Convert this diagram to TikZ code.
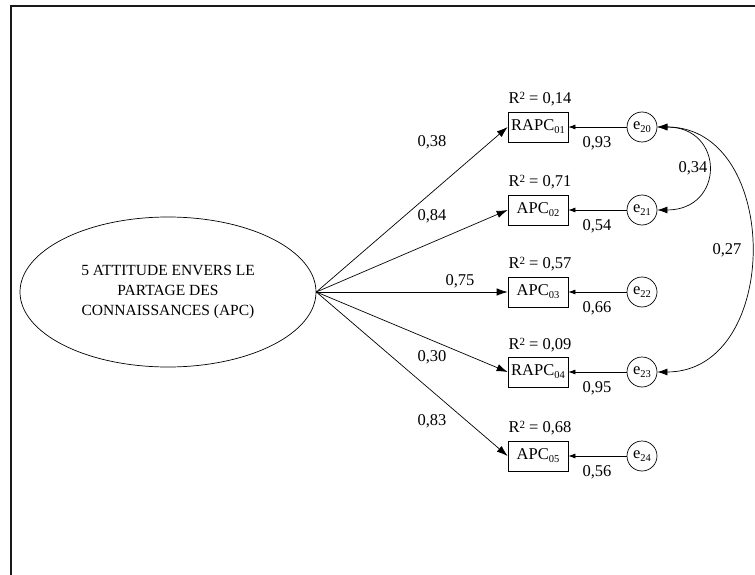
\documentclass[tikz,border=0pt]{standalone}
\usepackage{fontspec}
\setmainfont{Liberation Serif}
\usetikzlibrary{arrows.meta,shapes.geometric}

% small lowered index and raised exponent in the text font
\newcommand\lowidx[1]{\raisebox{-0.4ex}{\fontsize{10.5}{10}\selectfont #1}}
\newcommand\hisq{\raisebox{0.6ex}{\fontsize{11}{10}\selectfont 2}}

\begin{document}
\begin{tikzpicture}[x=1pt,y=-1pt,
  font=\fontsize{16.5}{18}\selectfont,
  frame/.style={line width=1.6pt, draw=black!90},
  obs/.style={draw, line width=0.7pt, minimum width=60pt, minimum height=30pt, inner sep=1pt},
  err/.style={draw, circle, line width=0.7pt, minimum size=30pt, inner sep=0pt},
  lat/.style={draw, ellipse, line width=0.7pt, minimum width=296pt, minimum height=150pt,
              align=center, inner sep=0pt, font=\fontsize{15.5}{20}\selectfont},
  load/.style={line width=0.7pt, -{Latex[length=11pt,width=7.5pt]}},
  resid/.style={line width=0.7pt, -{Latex[length=7pt,width=5pt]}},
  cov/.style={line width=0.7pt, {Latex[length=10pt,width=7pt]}-{Latex[length=10pt,width=7pt]}},
  lbl/.style={inner sep=0pt}]

\useasboundingbox (0,0) rectangle (755,575);

% open frame (top and left edges)
\draw[frame] (11,575) -- (11,6) -- (755,6);

% latent factor
\node[lat] (apc) at (168,292) {5 ATTITUDE ENVERS LE\\PARTAGE DES\\CONNAISSANCES (APC)};

% indicators
\node[obs] (o1) at (538,127) {RAPC\lowidx{01}};
\node[obs] (o2) at (538,210) {APC\lowidx{02}};
\node[obs] (o3) at (538,292) {APC\lowidx{03}};
\node[obs] (o4) at (538,372) {RAPC\lowidx{04}};
\node[obs] (o5) at (538,456) {APC\lowidx{05}};

% squared multiple correlations
\node[lbl] (r1) at (540,99)  {R\hisq\ = 0,14};
\node[lbl] (r2) at (540,182) {R\hisq\ = 0,71};
\node[lbl] (r3) at (540,264) {R\hisq\ = 0,57};
\node[lbl] (r4) at (540,345) {R\hisq\ = 0,09};
\node[lbl] (r5) at (540,428) {R\hisq\ = 0,68};

% error terms
\node[err] (e1) at (642,127) {e\lowidx{20}};
\node[err] (e2) at (642,210) {e\lowidx{21}};
\node[err] (e3) at (642,292) {e\lowidx{22}};
\node[err] (e4) at (642,372) {e\lowidx{23}};
\node[err] (e5) at (642,456) {e\lowidx{24}};

% factor loadings
\draw[load] (apc.east) -- (o1.west);
\draw[load] (apc.east) -- (o2.west);
\draw[load] (apc.east) -- (o3.west);
\draw[load] (apc.east) -- (o4.west);
\draw[load] (apc.east) -- (o5.west);
\node[lbl] (w1) at (432,142) {0,38};
\node[lbl] (w2) at (432,216) {0,84};
\node[lbl] (w3) at (460,281) {0,75};
\node[lbl] (w4) at (432,357) {0,30};
\node[lbl] (w5) at (432,421) {0,83};

% residual paths
\draw[resid] (e1.west) -- (o1.east);
\draw[resid] (e2.west) -- (o2.east);
\draw[resid] (e3.west) -- (o3.east);
\draw[resid] (e4.west) -- (o4.east);
\draw[resid] (e5.west) -- (o5.east);
\node[lbl] (u1) at (597,143) {0,93};
\node[lbl] (u2) at (597,226) {0,54};
\node[lbl] (u3) at (597,308) {0,66};
\node[lbl] (u4) at (597,388) {0,95};
\node[lbl] (u5) at (597,472) {0,56};

% error covariances
\draw[cov] (e1.east) .. controls (725,127) and (725,210) .. (e2.east);
\draw[cov] (e1.east) .. controls (782,127) and (782,372) .. (e4.east);
\node[lbl] (c1) at (693,168) {0,34};
\node[lbl] (c2) at (727,250) {0,27};

\end{tikzpicture}
\end{document}
